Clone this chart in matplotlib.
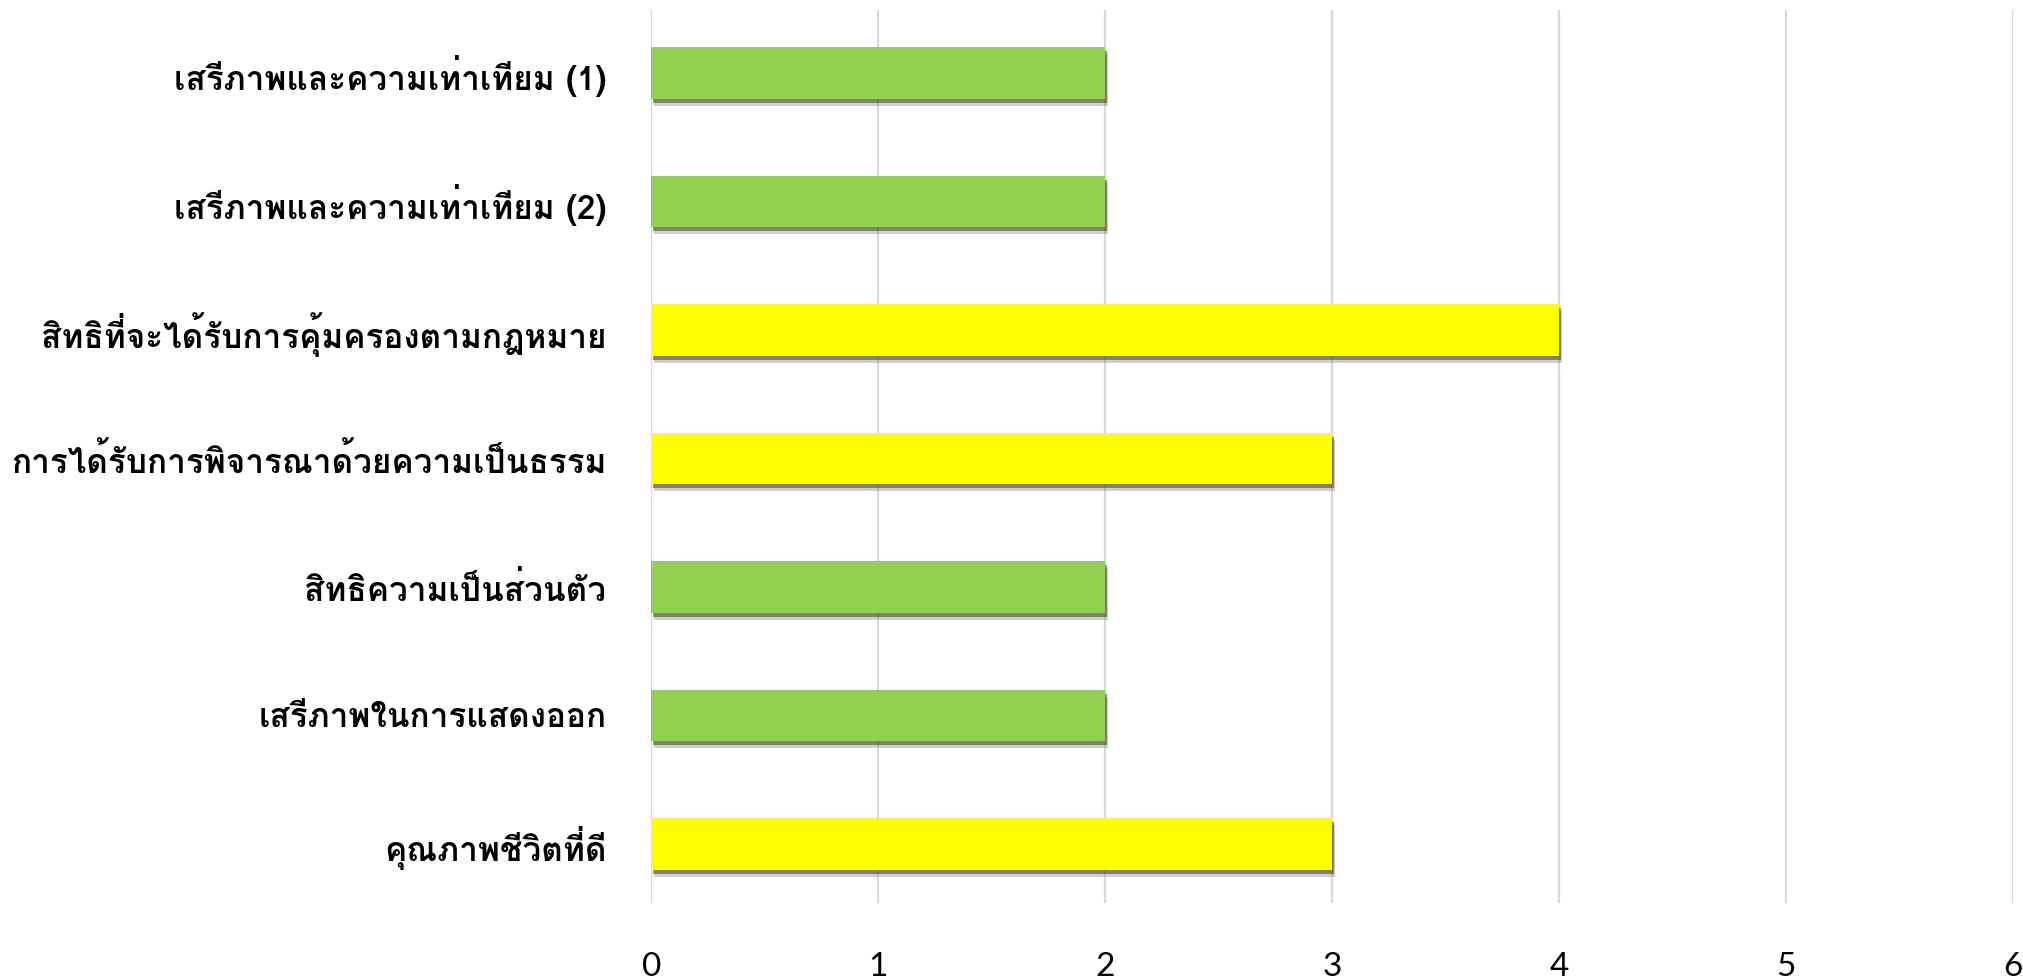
import matplotlib
matplotlib.use("Agg")
import matplotlib.pyplot as plt
import matplotlib.patheffects as pe
from matplotlib import font_manager
from matplotlib.ft2font import FT2Font

categories = [
    "เสรีภาพและความเท่าเทียม (1)",
    "เสรีภาพและความเท่าเทียม (2)",
    "สิทธิที่จะได้รับการคุ้มครองตามกฎหมาย",
    "การได้รับการพิจารณาด้วยความเป็นธรรม",
    "สิทธิความเป็นส่วนตัว",
    "เสรีภาพในการแสดงออก",
    "คุณภาพชีวิตที่ดี",
]
values = [2, 2, 4, 3, 2, 2, 3]
bar_colors = ["#92D050", "#92D050", "#FFFF00", "#FFFF00", "#92D050", "#92D050", "#FFFF00"]
x_ticks = [0, 1, 2, 3, 4, 5, 6]

# find a font with Thai glyphs
thai_family = None
candidates = []
for f in font_manager.fontManager.ttflist:
    try:
        ft = FT2Font(f.fname)
        cm = ft.get_charmap()
        if 0x0E01 in cm and 0x0E2A in cm:
            candidates.append(f)
    except Exception:
        pass
if candidates:
    bold = [c for c in candidates if str(c.weight) in ("bold", "700", "600", "semibold", "demibold")]
    thai_family = (bold or candidates)[0].name
families = ([thai_family] if thai_family else []) + ["DejaVu Sans"]
plt.rcParams["font.family"] = families

names = {f.name for f in font_manager.fontManager.ttflist}
digit_family = [n for n in ["Lato", "Open Sans", "Liberation Sans", "DejaVu Sans"] if n in names] or ["DejaVu Sans"]

fig = plt.figure(figsize=(20.23, 9.8), dpi=100)
ax = fig.add_axes([0.322, 0.0786, 0.673, 0.9112])

ypos = list(range(len(categories)))
bars = ax.barh(ypos, values, height=0.40, color=bar_colors, zorder=3)
for b in bars:
    b.set_path_effects([
        pe.SimplePatchShadow(offset=(2, -5), shadow_rgbFace="#777777", alpha=0.35),
        pe.SimplePatchShadow(offset=(1.5, -3), shadow_rgbFace="#333333", alpha=0.5),
        pe.Normal(),
    ])

ax.set_ylim(6.46, -0.49)
ax.set_xlim(0, 6)
ax.set_xticks(x_ticks)
ax.set_xticklabels([str(t) for t in x_ticks], fontsize=24, family=digit_family)
ax.set_yticks(ypos)
ax.set_yticklabels(categories, fontsize=24, fontweight="bold")
ax.tick_params(axis="x", length=0, pad=35)
ax.tick_params(axis="y", length=0, pad=32)
ax.grid(axis="x", color="#D9D9D9", linewidth=1.6, zorder=0)
ax.grid(axis="y", visible=False)
for s in ax.spines.values():
    s.set_visible(False)

fig.savefig("out.png", dpi=100)
